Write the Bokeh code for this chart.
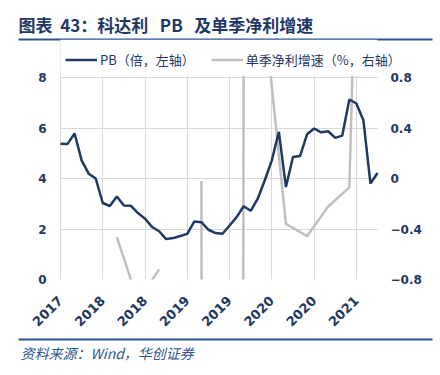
import math
from bokeh.plotting import figure
from bokeh.models import (Range1d, LinearAxis, FixedTicker, Legend, LegendItem,
                          ColumnDataSource, BoxAnnotation, Title)
from bokeh.embed import file_html
from bokeh.resources import INLINE

# ---- data ----
tick_positions = [0, 6, 12, 18, 24, 30, 36, 42]
tick_labels = ["2017", "2018", "2018", "2019", "2019", "2020", "2020", "2021"]

pb_values = [5.38, 5.37, 5.78, 4.72, 4.19, 4.00, 3.03, 2.91, 3.29, 2.93,
             2.92, 2.63, 2.41, 2.08, 1.91, 1.60, 1.64, 1.72, 1.81, 2.30,
             2.27, 1.97, 1.84, 1.81, 2.14, 2.47, 2.90, 2.72, 3.20, 3.93,
             4.72, 5.85, 3.66, 4.85, 4.89, 5.75, 5.98, 5.83, 5.87, 5.61,
             5.70, 7.13, 6.97, 6.31, 3.80, 4.22]
pb_index = list(range(len(pb_values)))

growth_index = [8, 11, 14, 17, 20, 23, 26, 29, 32, 35, 38, 41, 44]
growth_values = [-0.465, -0.97, -0.72, float("nan"), -0.02, -100.0, 1.0, 1.27,
                 -0.36, -0.457, -0.222, -0.07, 6.0]

left_min, left_max = 0, 8
right_min, right_max = -0.8, 0.8
left_ticks = [0, 2, 4, 6, 8]
right_ticks = [-0.8, -0.4, 0, 0.4, 0.8]

NB = "\u00a0"
title_text = "图表" + NB * 2 + "43：科达利" + NB * 3 + "PB" + NB * 3 + "及单季净利增速"
source_text = "资料来源：Wind，华创证券"
legend_labels = ["PB（倍，左轴）", "单季净利增速（%，右轴）"]

NAVY = "#1F3864"
GRAY = "#BFBFBF"
GRID = "#D9D9D9"
RULE = "#2E5590"
CJK = "Noto Sans CJK SC"

# ---- layout geometry (pixels) ----
FRAME_W, FRAME_H = 414, 240          # frame: x 18..432, y 39..279
PLOT_L, PLOT_R = 42, 359             # plotting area inside frame (x)
PLOT_TOP = 38                        # plotting area top inside frame (y, from frame top)
N = len(pb_values) - 1
px_per = (PLOT_R - PLOT_L) / N
x_start = -PLOT_L / px_per
x_end = N + (FRAME_W - PLOT_R) / px_per
plot_h = FRAME_H - PLOT_TOP
y_top = left_max + PLOT_TOP * (left_max - left_min) / plot_h
ry_top = right_max + PLOT_TOP * (right_max - right_min) / plot_h

p = figure(frame_width=FRAME_W, frame_height=FRAME_H, output_backend="svg",
           toolbar_location=None, x_range=Range1d(x_start, x_end),
           y_range=Range1d(left_min, y_top),
           min_border_left=18, min_border_right=8, min_border_top=39,
           min_border_bottom=96)
p.outline_line_color = None

p.extra_y_ranges = {"right": Range1d(right_min, ry_top)}
raxis = LinearAxis(y_range_name="right", ticker=FixedTicker(ticks=right_ticks))
p.add_layout(raxis, "right")

p.yaxis[0].ticker = FixedTicker(ticks=left_ticks)
p.xaxis.ticker = FixedTicker(ticks=tick_positions)
p.xaxis.major_label_overrides = {t: l for t, l in zip(tick_positions, tick_labels)}
p.xaxis.major_label_orientation = math.pi / 4

for ax in [p.xaxis[0], p.yaxis[0], raxis]:
    ax.axis_line_color = None
    ax.major_tick_line_color = None
    ax.minor_tick_line_color = None
    ax.major_tick_out = 0
    ax.minor_tick_out = 0
    ax.major_label_text_color = NAVY
    ax.major_label_text_font = "DejaVu Sans"
    ax.major_label_text_font_style = "bold"
    ax.major_label_text_font_size = "12px"
p.xaxis.major_label_text_font_size = "13px"
p.yaxis[0].major_label_standoff = -(PLOT_L - 14)
raxis.major_label_standoff = -(FRAME_W - PLOT_R - 13)
p.xaxis.major_label_standoff = 19
p.xaxis.axis_label = " "
p.xaxis.axis_label_standoff = 0
p.xaxis.axis_label_text_font_size = "3px"

p.xgrid.grid_line_color = GRID
p.ygrid.grid_line_color = GRID
p.xgrid.ticker = FixedTicker(ticks=tick_positions)
p.ygrid.ticker = FixedTicker(ticks=left_ticks)
try:
    p.ygrid[0].cross_bounds = (0, N)
except Exception:
    p.add_layout(BoxAnnotation(right=-0.05, fill_color="white", fill_alpha=1,
                               line_alpha=0, level="underlay"))
    p.add_layout(BoxAnnotation(left=N + 0.05, fill_color="white", fill_alpha=1,
                               line_alpha=0, level="underlay"))

gsrc = ColumnDataSource(dict(x=growth_index, y=growth_values))
r_g = p.line("x", "y", source=gsrc, y_range_name="right", line_color=GRAY, line_width=2.5)
psrc = ColumnDataSource(dict(x=pb_index, y=pb_values))
r_pb = p.line("x", "y", source=psrc, line_color=NAVY, line_width=2.5)

# white mask above the plotting area (keeps lines/grid inside 0..8)
p.add_layout(BoxAnnotation(left=0, right=N, bottom=left_max + 0.06,
                           fill_color="white", fill_alpha=1, line_alpha=0,
                           level="annotation"))

legend = Legend(items=[LegendItem(label=legend_labels[0], renderers=[r_pb]),
                       LegendItem(label=legend_labels[1], renderers=[r_g])],
                orientation="horizontal", location=(PLOT_L + 5, FRAME_H - 30))
legend.background_fill_alpha = 0
legend.border_line_alpha = 0
legend.label_text_font = CJK
legend.label_text_font_size = "13px"
legend.label_text_color = NAVY
legend.glyph_width = 32
legend.glyph_height = 19
legend.label_height = 19
legend.label_standoff = 3
legend.spacing = 16
legend.padding = 0
legend.margin = 0
p.add_layout(legend, "center")


def rule_axis():
    a = LinearAxis(ticker=FixedTicker(ticks=[]))
    a.axis_line_color = RULE
    a.axis_line_width = 2
    a.major_tick_out = 0
    a.minor_tick_out = 0
    a.major_label_standoff = 0
    return a


p.add_layout(rule_axis(), "above")
p.add_layout(Title(text=title_text, align="left", text_font=CJK, text_font_style="bold",
                   text_font_size="17px", text_color=NAVY, standoff=5), "above")

p.add_layout(rule_axis(), "below")
p.add_layout(Title(text=source_text, align="left", offset=2, text_font=CJK,
                   text_font_style="italic", text_font_size="14px",
                   text_color=RULE, standoff=2), "below")

open("out.html", "w").write(file_html(p, INLINE))
